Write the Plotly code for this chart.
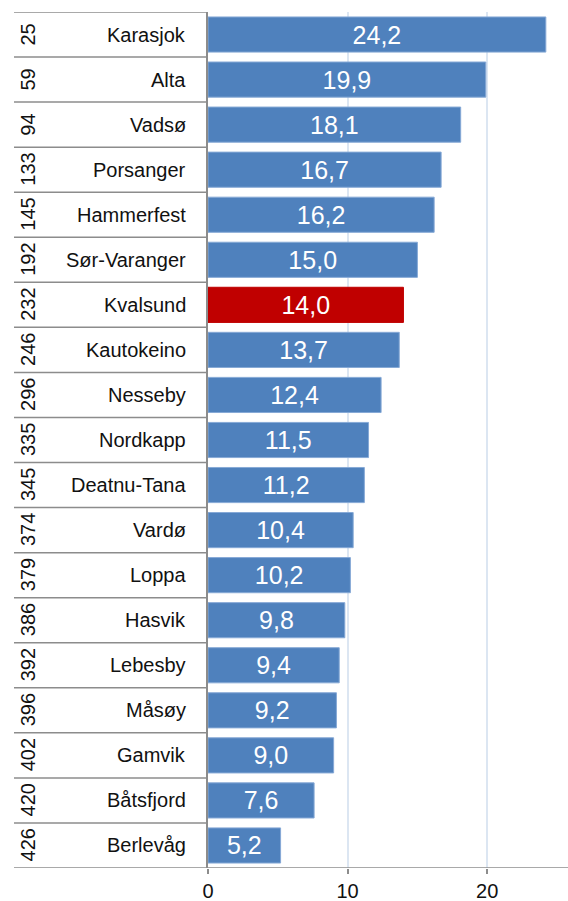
import plotly.graph_objects as go

# Municipalities, national rank and value
municipalities = ["Karasjok", "Alta", "Vadsø", "Porsanger", "Hammerfest", "Sør-Varanger",
                  "Kvalsund", "Kautokeino", "Nesseby", "Nordkapp", "Deatnu-Tana", "Vardø",
                  "Loppa", "Hasvik", "Lebesby", "Måsøy", "Gamvik", "Båtsfjord", "Berlevåg"]
ranks = [25, 59, 94, 133, 145, 192, 232, 246, 296, 335, 345, 374, 379, 386, 392, 396, 402, 420, 426]
values = [24.2, 19.9, 18.1, 16.7, 16.2, 15.0, 14.0, 13.7, 12.4, 11.5, 11.2, 10.4, 10.2,
          9.8, 9.4, 9.2, 9.0, 7.6, 5.2]
highlight = "Kvalsund"
x_ticks = [0, 10, 20]

W, H = 568, 901
L, R, T, B = 208, 0, 12, 33
plot_w = W - L - R
FONT = "Liberation Sans"
LINE = "#8c8c8c"

fills = ["#c00000" if m == highlight else "#4f81bd" for m in municipalities]
edges = ["#c00000" if m == highlight else "#86a9d6" for m in municipalities]
labels = [f"{v:.1f}".replace(".", ",") for v in values]

fig = go.Figure(go.Bar(
    x=values, y=municipalities, orientation="h",
    marker=dict(color=fills, line=dict(color=edges, width=1)),
    text=labels, textposition="inside", insidetextanchor="middle",
    textfont=dict(color="white", size=25, family=FONT),
    constraintext="none", hoverinfo="skip",
))

n = len(municipalities)
left_edge = (14 - L) / plot_w

shapes = []
# row separators of the label table
for i in range(n):
    shapes.append(dict(type="line", xref="paper", yref="y", x0=left_edge, x1=0,
                       y0=i - 0.5, y1=i - 0.5, line=dict(color=LINE, width=1.5)))
# bottom rule across table and plot
shapes.append(dict(type="line", xref="paper", yref="y", x0=left_edge, x1=1,
                   y0=n - 0.5, y1=n - 0.5, line=dict(color=LINE, width=1.5)))

annotations = []
for i, (m, r) in enumerate(zip(municipalities, ranks)):
    annotations.append(dict(xref="paper", yref="y", x=0, y=i, text=m, showarrow=False,
                            xanchor="right", xshift=-20,
                            font=dict(size=20, color="#111", family=FONT)))
    annotations.append(dict(xref="paper", yref="y", x=0, y=i, text=str(r), showarrow=False,
                            textangle=-90, xanchor="center", xshift=-180,
                            font=dict(size=20, color="#111", family=FONT)))

fig.update_layout(
    width=W, height=H, margin=dict(l=L, r=R, t=T, b=B),
    paper_bgcolor="white", plot_bgcolor="white",
    bargap=0.22, showlegend=False,
    shapes=shapes, annotations=annotations,
    font=dict(family=FONT),
    xaxis=dict(range=[0, plot_w / 13.96], tickvals=x_ticks, showgrid=True,
               gridcolor="#dce6f2", gridwidth=1.5, zeroline=False,
               showline=False, ticks="outside", ticklen=5, tickcolor=LINE,
               tickwidth=1.5, tickfont=dict(size=20, color="#111", family=FONT)),
    yaxis=dict(categoryorder="array", categoryarray=municipalities,
               range=[n - 0.5, -0.5], showticklabels=False, showgrid=False,
               zeroline=False, showline=True, linecolor=LINE, linewidth=1.5,
               ticks=""),
)

fig.write_html("out.html")
